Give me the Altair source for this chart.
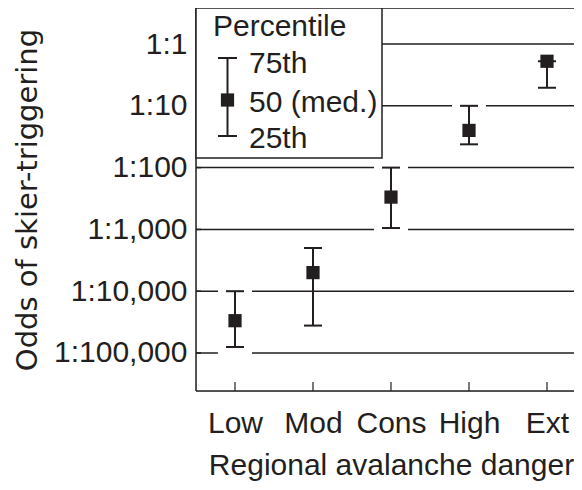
import math
import altair as alt
import pandas as pd

# ---------------- data ----------------
categories = ["Low", "Mod", "Cons", "High", "Ext"]
# odds of skier-triggering expressed as 1:N  (N values per percentile)
p75_denom = [10000, 2000, 100, 10, 1.9]
p50_denom = [30000, 5000, 300, 25, 1.9]
p25_denom = [80000, 36000, 950, 42, 5.1]
y_tick_labels = ["1:1", "1:10", "1:100", "1:1,000", "1:10,000", "1:100,000"]
legend_title = "Percentile"
legend_labels = ["75th", "50 (med.)", "25th"]
x_title = "Regional avalanche danger"
y_title = "Odds of skier-triggering"

# ---------------- style ----------------
W, H = 378, 383
XR = 390          # x range (plot runs off the right edge, as in the original)
INK = "#231f20"
FONT = "Liberation Sans"
FS = 30

df = pd.DataFrame({
    "cat": categories,
    "q75": [1.0 / d for d in p75_denom],
    "med": [1.0 / d for d in p50_denom],
    "q25": [1.0 / d for d in p25_denom],
})
tick_vals = [1.0 / float(l.split(":")[1].replace(",", "")) for l in y_tick_labels]
grid_df = pd.DataFrame({"v": tick_vals})

# white breaks in the gridlines where a cap sits on a gridline
gaps = []
for c, a, b in zip(df["cat"], df["q75"], df["q25"]):
    for v in (a, b):
        lv = math.log10(v)
        d = round(lv)
        if abs(lv - d) < 0.15:
            gaps.append({"cat": c, "v": 10.0 ** d})
gap_df = pd.DataFrame(gaps)
one = pd.DataFrame({"k": [0]})

y_scale = alt.Scale(type="log", domain=[10 ** -5.615, 10 ** 0.583], nice=False)
y_axis = alt.Axis(
    title=y_title, values=tick_vals,
    labelExpr="'1:' + format(round(1/datum.value), ',')",
    ticks=False, tickSize=0, domain=False, grid=False, labelOverlap=False,
    labelFont=FONT, labelFontSize=FS, labelColor=INK, labelPadding=9,
    titleFont="DejaVu Sans", titleFontSize=29, titleColor=INK, titleFontWeight="normal",
    titleX=-160, titleY=H / 2, titleBaseline="alphabetic", titleAngle=270,
)
x_scale = alt.Scale(type="point", domain=categories, padding=0.5, range=[0, XR])
x_axis = alt.Axis(
    title=x_title, labelAngle=0, ticks=False, tickSize=0, domain=False, grid=False,
    labelFont=FONT, labelFontSize=FS, labelColor=INK, labelPadding=41,
    labelBaseline="alphabetic",
    titleFont=FONT, titleFontSize=FS, titleColor=INK, titleFontWeight="normal",
    titleBaseline="alphabetic", titleY=83, titleX=XR / 2,
)


def X():
    return alt.X("cat:N", scale=x_scale, axis=x_axis)


def Y(f):
    return alt.Y(f"{f}:Q", scale=y_scale, axis=y_axis)


grid = alt.Chart(grid_df).mark_rule(color=INK, strokeWidth=1.5).encode(
    x=alt.value(0), x2=alt.value(XR), y=Y("v"))
yticks = alt.Chart(grid_df).mark_rule(color=INK, strokeWidth=1.5).encode(
    x=alt.value(0), x2=alt.value(5), y=Y("v"))
gap = alt.Chart(gap_df).mark_tick(color="white", size=34, thickness=5, opacity=1).encode(
    x=X(), y=Y("v"))
bars = alt.Chart(df).mark_rule(color=INK, strokeWidth=2).encode(
    x=X(), y=Y("q25"), y2="q75")
cap_hi = alt.Chart(df).mark_tick(color=INK, size=18, thickness=2, opacity=1).encode(
    x=X(), y=Y("q75"))
cap_lo = alt.Chart(df).mark_tick(color=INK, size=18, thickness=2, opacity=1).encode(
    x=X(), y=Y("q25"))
squares = alt.Chart(df).mark_square(color=INK, size=175, opacity=1).encode(
    x=X(), y=Y("med"))
xticks = alt.Chart(df).mark_rule(color=INK, strokeWidth=1.2).encode(
    x=X(), y=alt.value(H), y2=alt.value(H - 9))

# frame (left, top, bottom)
frame_left = alt.Chart(one).mark_rule(color=INK, strokeWidth=1.5).encode(
    x=alt.value(0), y=alt.value(0), y2=alt.value(H))
frame_top = alt.Chart(one).mark_rule(color=INK, strokeWidth=1.5).encode(
    x=alt.value(0), x2=alt.value(XR), y=alt.value(0))
frame_bot = alt.Chart(one).mark_rule(color=INK, strokeWidth=1.5).encode(
    x=alt.value(0), x2=alt.value(XR), y=alt.value(H))

# legend
leg_box = alt.Chart(one).mark_rect(fill="white", stroke=INK, strokeWidth=1.5).encode(
    x=alt.value(0), x2=alt.value(186), y=alt.value(0), y2=alt.value(150))


def leg_text(t, x, y):
    return alt.Chart(one).mark_text(
        align="left", baseline="alphabetic", font=FONT, fontSize=FS, color=INK
    ).encode(text=alt.value(t), x=alt.value(x), y=alt.value(y))


leg_title = leg_text(legend_title, 17, 28)
leg_rows = [leg_text(t, 53, y) for t, y in zip(legend_labels, [65, 104, 140])]
leg_bar = alt.Chart(one).mark_rule(color=INK, strokeWidth=2).encode(
    x=alt.value(31.5), y=alt.value(50), y2=alt.value(128))
leg_cap1 = alt.Chart(one).mark_rule(color=INK, strokeWidth=2).encode(
    x=alt.value(22), x2=alt.value(41), y=alt.value(50))
leg_cap2 = alt.Chart(one).mark_rule(color=INK, strokeWidth=2).encode(
    x=alt.value(22), x2=alt.value(41), y=alt.value(128))
leg_sq = alt.Chart(one).mark_square(color=INK, size=175, opacity=1).encode(
    x=alt.value(31.5), y=alt.value(92))

chart = alt.layer(
    grid, yticks, gap, bars, cap_hi, cap_lo, squares, xticks,
    frame_left, frame_top, frame_bot,
    leg_box, leg_title, *leg_rows, leg_bar, leg_cap1, leg_cap2, leg_sq,
).properties(
    width=W, height=H,
    autosize=alt.AutoSizeParams(type="none"),
    padding={"left": 188, "top": 0, "right": 0, "bottom": 97},
).configure_view(stroke=None).configure(background="white")

chart.save("out.html", embed_options={"renderer": "svg", "actions": False})
